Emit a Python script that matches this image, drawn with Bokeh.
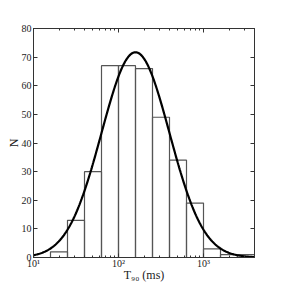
import numpy as np
from bokeh.plotting import figure
from bokeh.models import LogAxis, LinearAxis, FixedTicker, LogTicker
from bokeh.embed import file_html
from bokeh.resources import INLINE

# Histogram of log10(T90 / ms), bin edges in log10 space
bin_lo_log = [1.0, 1.2, 1.4, 1.6, 1.8, 2.0, 2.2, 2.4, 2.6, 2.8, 3.0, 3.2, 3.4]
bin_hi_log = [1.2, 1.4, 1.6, 1.8, 2.0, 2.2, 2.4, 2.6, 2.8, 3.0, 3.2, 3.4, 3.6]
counts = [0, 2, 13, 30, 67, 67, 66, 49, 34, 19, 3, 1, 1]

# Log-normal fit parameters (amplitude, mean log10 T90, sigma)
fit_amp = 71.7
fit_mu = 2.2
fit_sigma = 0.4

x_tick_labels = {10: "10¹", 100: "10²", 1000: "10³"}
y_ticks = [0, 10, 20, 30, 40, 50, 60, 70, 80]

FONT = "Liberation Serif"
AXC = "#333333"

p = figure(x_axis_type="log", x_range=(10, 10 ** 3.6), y_range=(0, 80),
           frame_width=221, frame_height=229, output_backend="svg",
           toolbar_location=None, min_border_left=33, min_border_top=28,
           min_border_right=12, min_border_bottom=20,
           background_fill_color="white", border_fill_color="white")
p.grid.visible = False
p.outline_line_color = AXC

left = [10 ** v for v in bin_lo_log]
right = [10 ** v for v in bin_hi_log]
p.quad(left=left, right=right, bottom=0, top=counts, fill_color=None,
       line_color="#555555", line_width=1.2)

xl = np.linspace(1.0, 3.6, 300)
yc = fit_amp * np.exp(-(xl - fit_mu) ** 2 / (2 * fit_sigma ** 2))
p.line(10 ** xl, yc, line_color="black", line_width=2.2)

def style(ax):
    ax.axis_line_color = AXC
    ax.major_tick_line_color = AXC
    ax.minor_tick_line_color = AXC
    ax.major_tick_in = 4
    ax.major_tick_out = 0
    ax.minor_tick_in = 2
    ax.minor_tick_out = 0
    ax.major_label_text_font = FONT
    ax.major_label_text_font_size = "10px"
    ax.major_label_text_color = "#222222"
    ax.axis_label_text_font = FONT
    ax.axis_label_text_font_size = "12px"
    ax.axis_label_text_font_style = "normal"
    ax.axis_label_text_color = "#222222"

xa = p.xaxis[0]
style(xa)
xa.ticker = LogTicker(num_minor_ticks=10)
xa.major_label_overrides = x_tick_labels
xa.major_label_standoff = 0
xa.axis_label = "T₉₀ (ms)"
xa.axis_label_standoff = -4

ya = p.yaxis[0]
style(ya)
ya.ticker = FixedTicker(ticks=y_ticks)
ya.minor_tick_line_color = None
ya.major_label_standoff = 2
ya.axis_label = "N"
ya.axis_label_standoff = -2

top = LogAxis(ticker=LogTicker(num_minor_ticks=10))
style(top)
top.major_label_text_color = None
top.major_label_standoff = 0
top.major_label_text_font_size = "1px"
p.add_layout(top, "above")

rt = LinearAxis(ticker=FixedTicker(ticks=y_ticks))
style(rt)
rt.minor_tick_line_color = None
rt.major_label_text_color = None
rt.major_label_standoff = 0
rt.major_label_text_font_size = "1px"
p.add_layout(rt, "right")

open("out.html", "w").write(file_html(p, INLINE))
